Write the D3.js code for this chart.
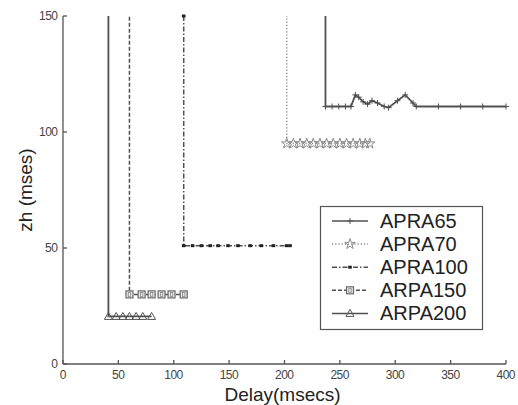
<!DOCTYPE html>
<html><head><meta charset="utf-8">
<script src="https://cdn.jsdelivr.net/npm/d3@7"></script>
<style>
html,body{margin:0;padding:0;background:#fff;}
svg{display:block;font-family:Arial,"Liberation Sans",sans-serif;}
</style></head>
<body>
<svg id="c" width="518" height="405"></svg>
<script>
// ---- data ----
const seriesNames = ["APRA65", "APRA70", "APRA100", "ARPA150", "ARPA200"];
const apra65X = [237, 237, 243, 249, 255, 260, 264, 267, 271, 275, 279, 284, 290, 294, 302, 309, 316, 319, 339, 359, 379, 400];
const apra65Y = [160, 111, 111, 111, 111, 111, 116, 115, 113, 112, 113.5, 112.5, 111, 110.5, 113.5, 116, 112.5, 111, 111, 111, 111, 111];
const apra70X = [202, 202, 208, 214, 220, 226, 232, 238, 244, 250, 256, 262, 268, 273, 277];
const apra70Y = [160, 95, 95, 95, 95, 95, 95, 95, 95, 95, 95, 95, 95, 95, 95];
const apra100X = [109, 109, 117, 125, 133, 140, 149, 158, 169, 179, 190, 202, 205];
const apra100Y = [150, 51, 51, 51, 51, 51, 51, 51, 51, 51, 51, 51, 51];
const arpa150X = [60, 60, 71, 80, 89, 98, 109];
const arpa150Y = [160, 30, 30, 30, 30, 30, 30];
const arpa200X = [41, 41, 48, 54, 60, 66, 72, 80];
const arpa200Y = [160, 20.5, 20.5, 20.5, 20.5, 20.5, 20.5, 20.5];
const xTicks = [0, 50, 100, 150, 200, 250, 300, 350, 400];
const yTicks = [0, 50, 100, 150];
const xTitle = "Delay(msecs)";
const yTitle = "zh (mses)";

// ---- styles ----
const lineColor = "#505050";
const styles = {
  APRA65: {dash: null, marker: "plus"},
  APRA70: {dash: "1.2,2", marker: "star"},
  APRA100: {dash: "5,2,1.5,2", marker: "dot"},
  ARPA150: {dash: "4,2", marker: "square"},
  ARPA200: {dash: null, marker: "triangle"}
};
const seriesData = [
  {name: "APRA65", xs: apra65X, ys: apra65Y},
  {name: "APRA70", xs: apra70X, ys: apra70Y},
  {name: "APRA100", xs: apra100X, ys: apra100Y},
  {name: "ARPA150", xs: arpa150X, ys: arpa150Y},
  {name: "ARPA200", xs: arpa200X, ys: arpa200Y}
];

const svg = d3.select("#c");
const L = 63, R = 506, T = 16, B = 364;
const x = d3.scaleLinear().domain([0, 400]).range([L, R]);
const y = d3.scaleLinear().domain([0, 150]).range([B, T]);

svg.append("defs").append("clipPath").attr("id", "clip")
  .append("rect").attr("x", L).attr("y", T).attr("width", R - L).attr("height", B - T);

function drawMarker(g, type, cx, cy) {
  const c = lineColor;
  if (type === "plus") {
    g.append("path").attr("d", `M${cx-3},${cy}H${cx+3}M${cx},${cy-3}V${cy+3}`)
      .attr("stroke", c).attr("stroke-width", 1).attr("fill", "none");
  } else if (type === "star") {
    g.append("path").attr("d", d3.symbol(d3.symbolStar, 34)())
      .attr("transform", `translate(${cx},${cy})`)
      .attr("fill", "none").attr("stroke", "#8a8a8a").attr("stroke-width", 1);
  } else if (type === "dot") {
    g.append("rect").attr("x", cx - 1.8).attr("y", cy - 1.5).attr("width", 3.6).attr("height", 3)
      .attr("fill", "#222");
  } else if (type === "square") {
    g.append("rect").attr("x", cx - 3.5).attr("y", cy - 3.5).attr("width", 7).attr("height", 7)
      .attr("fill", "#e8e8e8").attr("stroke", "#6a6a6a").attr("stroke-width", 1.2);
    g.append("rect").attr("x", cx - 1.2).attr("y", cy - 2).attr("width", 2.4).attr("height", 4)
      .attr("fill", "none").attr("stroke", "#888").attr("stroke-width", 0.8);
  } else if (type === "triangle") {
    g.append("path").attr("d", `M${cx},${cy-4}L${cx+4},${cy+3}L${cx-4},${cy+3}Z`)
      .attr("fill", "none").attr("stroke", "#555").attr("stroke-width", 1);
  }
}

// axes
const axG = svg.append("g").attr("fill", "none").attr("stroke", "#555").attr("stroke-width", 1.3);
axG.append("line").attr("x1", L).attr("x2", R).attr("y1", B).attr("y2", B);
axG.append("line").attr("x1", L).attr("x2", L).attr("y1", T).attr("y2", B);
xTicks.forEach(t => {
  axG.append("line").attr("x1", x(t)).attr("x2", x(t)).attr("y1", B).attr("y2", B - 4);
  svg.append("text").attr("x", x(t)).attr("y", B + 15).attr("text-anchor", "middle")
    .attr("font-size", 12).attr("fill", "#444").attr("textLength", t >= 100 ? 19 : (t > 0 ? 13 : 6.5)).text(t);
});
yTicks.forEach(t => {
  axG.append("line").attr("x1", L).attr("x2", L + 4).attr("y1", y(t)).attr("y2", y(t));
  svg.append("text").attr("x", L - 5).attr("y", y(t) + 4).attr("text-anchor", "end")
    .attr("font-size", 12).attr("fill", "#444").attr("textLength", t >= 100 ? 19 : (t > 0 ? 13 : 6.5)).text(t);
});
svg.append("text").attr("x", (L + R) / 2 - 2).attr("y", 401).attr("text-anchor", "middle")
  .attr("font-size", 19).attr("fill", "#222").text(xTitle);
svg.append("text").attr("transform", `translate(32,${(T + B) / 2}) rotate(-90)`).attr("text-anchor", "middle")
  .attr("font-size", 19).attr("fill", "#222").text(yTitle);

// series
const lineGen = d3.line().x(d => x(d[0])).y(d => y(d[1]));
const plotG = svg.append("g");
seriesData.forEach(s => {
  const st = styles[s.name];
  const pts = s.xs.map((v, i) => [v, s.ys[i]]);
  plotG.append("path").attr("d", lineGen(pts)).attr("clip-path", "url(#clip)")
    .attr("fill", "none").attr("stroke", s.name === "APRA70" ? "#8a8a8a" : lineColor)
    .attr("stroke-width", s.name === "APRA65" || s.name === "ARPA200" ? 1.8 : 1.5)
    .attr("stroke-dasharray", st.dash);
  const mg = plotG.append("g");
  pts.filter(p => p[1] <= 150).forEach(p => drawMarker(mg, st.marker, x(p[0]), y(p[1])));
});

// legend
const lg = svg.append("g");
lg.append("rect").attr("x", 320.5).attr("y", 206.5).attr("width", 162).attr("height", 123)
  .attr("fill", "#fff").attr("stroke", "#555").attr("stroke-width", 1.2);
seriesNames.forEach((n, i) => {
  const st = styles[n];
  const cy = 221 + i * 23.1;
  lg.append("line").attr("x1", 332).attr("x2", 368).attr("y1", cy).attr("y2", cy)
    .attr("stroke", n === "APRA70" ? "#8a8a8a" : lineColor).attr("stroke-width", 1.5)
    .attr("stroke-dasharray", st.dash);
  drawMarker(lg, st.marker, 350, cy);
  lg.append("text").attr("x", 380).attr("y", cy + 7).attr("font-size", 20).attr("fill", "#222").text(n);
});
</script>
</body></html>
